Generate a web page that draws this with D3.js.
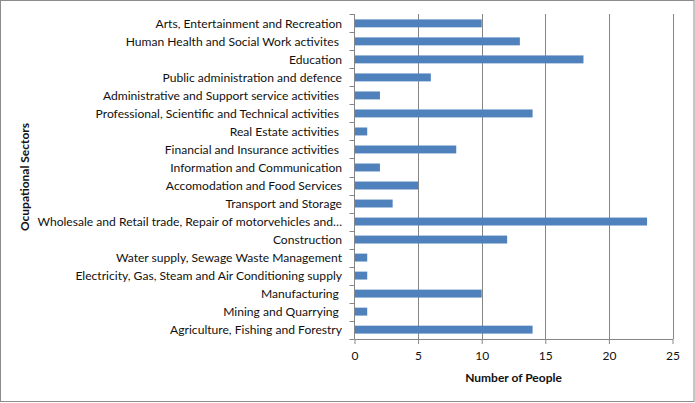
<!DOCTYPE html>
<html><head><meta charset="utf-8">
<script src="https://cdn.jsdelivr.net/npm/d3@7"></script>
<style>body{margin:0;background:#fff}svg{display:block}</style>
</head><body>
<svg id="c" width="695" height="403"></svg>
<script>
const categories = [
  "Arts, Entertainment and Recreation",
  "Human Health and Social Work activites ",
  "Education",
  "Public administration and defence",
  "Administrative and Support service activities ",
  "Professional, Scientific and Technical activities ",
  "Real Estate activities ",
  "Financial and Insurance activities ",
  "Information and Communication",
  "Accomodation and Food Services",
  "Transport and Storage",
  "Wholesale and Retail trade, Repair of motorvehicles and…",
  "Construction",
  "Water supply, Sewage Waste Management",
  "Electricity, Gas, Steam and Air Conditioning supply",
  "Manufacturing ",
  "Mining and Quarrying ",
  "Agriculture, Fishing and Forestry"
];
const values = [10, 13, 18, 6, 2, 14, 1, 8, 2, 5, 3, 23, 12, 1, 1, 10, 1, 14];
const xTicks = [0, 5, 10, 15, 20, 25];
const xTitle = "Number of People";
const yTitle = "Ocupational Sectors";

const svg = d3.select("#c");
const font = "Lato, 'Open Sans', sans-serif";
svg.append("rect").attr("x",0.5).attr("y",0.5).attr("width",693.5).attr("height",401)
  .attr("fill","#fff").attr("stroke","#8c8c8c");

const L = 354.5, R = 672.5, T = 14, B = 339;
const x = d3.scaleLinear().domain([0,25]).range([L,R]);
const y = d3.scaleBand().domain(categories).range([T,B]).paddingInner(0.56).paddingOuter(0.3);

// gridlines
svg.append("g").selectAll("line").data(xTicks.filter(d=>d>0)).join("line")
  .attr("x1",d=>Math.round(x(d))+0.5).attr("x2",d=>Math.round(x(d))+0.5)
  .attr("y1",T).attr("y2",B).attr("stroke","#868686").attr("stroke-width",1);

// bars
svg.append("g").selectAll("rect").data(values).join("rect")
  .attr("x",x(0)).attr("y",(d,i)=>y(categories[i]))
  .attr("width",d=>x(d)-x(0)).attr("height",y.bandwidth())
  .attr("fill","#4F81BD");

// x axis
const xa = svg.append("g").attr("transform",`translate(0,${B})`)
  .call(d3.axisBottom(x).tickValues(xTicks).tickSize(5).tickPadding(7).tickSizeOuter(0));
xa.select(".domain").attr("stroke","#868686");
xa.selectAll(".tick line").attr("stroke","#868686");
xa.selectAll("text").attr("font-family",font).attr("font-size",12).attr("fill","#111");

// y axis
const yEdges = d3.range(categories.length+1).map(i=>T+(B-T)*i/categories.length);
svg.append("line").attr("x1",L).attr("x2",L).attr("y1",T).attr("y2",B).attr("stroke","#868686");
svg.append("g").selectAll("line").data(yEdges).join("line")
  .attr("x1",L-5).attr("x2",L).attr("y1",d=>Math.round(d)+0.5).attr("y2",d=>Math.round(d)+0.5)
  .attr("stroke","#868686");
svg.append("g").selectAll("text").data(categories).join("text")
  .attr("x",342).attr("y",d=>y(d)+y.bandwidth()/2).attr("dy","0.35em")
  .attr("text-anchor","end").attr("font-family",font).attr("font-size",12.1).attr("fill","#111")
  .attr("xml:space","preserve").style("white-space","pre")
  .text(d=>d);

// titles
svg.append("text").attr("x",(L+R)/2).attr("y",382).attr("text-anchor","middle")
  .attr("font-family",font).attr("font-size",12).attr("font-weight","bold").attr("fill","#111").text(xTitle);
svg.append("text").attr("transform","translate(29,177) rotate(-90)").attr("text-anchor","middle")
  .attr("font-family",font).attr("font-size",12).attr("font-weight","bold").attr("fill","#111").text(yTitle);
</script>
</body></html>
